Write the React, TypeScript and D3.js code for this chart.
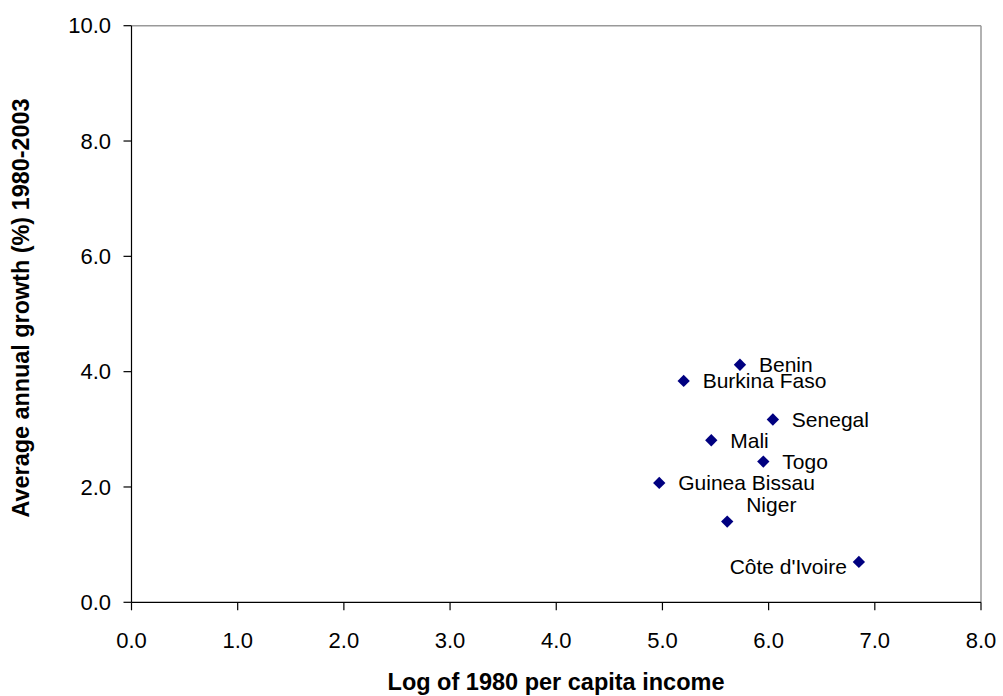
import React from "react";
import * as d3 from "d3";

const countries = ["Benin", "Burkina Faso", "Senegal", "Mali", "Togo", "Guinea Bissau", "Niger", "Côte d'Ivoire"];
const logIncome = [5.73, 5.2, 6.04, 5.46, 5.95, 4.97, 5.61, 6.85];
const growth = [4.12, 3.84, 3.17, 2.81, 2.44, 2.07, 1.4, 0.7];
const labelPos = ["right", "right", "right", "right", "right", "right", "above", "left"];
const xTicks = [0, 1, 2, 3, 4, 5, 6, 7, 8];
const yTicks = [0, 2, 4, 6, 8, 10];

export default function App() {
  const W = 1003, H = 696;
  const left = 131.5, right = 981, top = 25.7, bottom = 602.3;
  const x = d3.scaleLinear().domain([0, 8]).range([left, right]);
  const y = d3.scaleLinear().domain([0, 10]).range([bottom, top]);
  const diamond = d3.symbol().type(d3.symbolSquare).size(76)();
  const font = "Liberation Sans, Arial, sans-serif";
  const fs = 22;
  return (
    <svg width={W} height={H} style={{ position: "absolute", left: 0, top: 0 }} fontFamily={font}>
      <rect x={0} y={0} width={W} height={H} fill="white" />
      {/* plot border */}
      <line x1={left} x2={right} y1={top} y2={top} stroke="#999" strokeWidth={1.5} />
      <line x1={right} x2={right} y1={top} y2={bottom} stroke="#999" strokeWidth={1.5} />
      {/* axes */}
      <line x1={left} x2={left} y1={top} y2={bottom} stroke="black" strokeWidth={1.2} />
      <line x1={left} x2={right} y1={bottom} y2={bottom} stroke="black" strokeWidth={1.2} />
      {yTicks.map((t) => (
        <g key={"y" + t}>
          <line x1={left - 8} x2={left} y1={y(t)} y2={y(t)} stroke="black" strokeWidth={1.2} />
          <text x={111} y={y(t)} dy="0.35em" textAnchor="end" fontSize={fs}>{t.toFixed(1)}</text>
        </g>
      ))}
      {xTicks.map((t) => (
        <g key={"x" + t}>
          <line x1={x(t)} x2={x(t)} y1={bottom} y2={bottom + 8} stroke="black" strokeWidth={1.2} />
          <text x={x(t)} y={640} dy="0.35em" textAnchor="middle" fontSize={fs}>{t.toFixed(1)}</text>
        </g>
      ))}
      <text x={556} y={682} dy="0.35em" textAnchor="middle" fontSize={23.5} fontWeight="bold">Log of 1980 per capita income</text>
      <text transform={`translate(21,308) rotate(-90)`} dy="0.35em" textAnchor="middle" fontSize={23.4} fontWeight="bold">Average annual growth (%) 1980-2003</text>
      {countries.map((c, i) => {
        const px = x(logIncome[i]);
        const py = y(growth[i]);
        const pos = labelPos[i];
        let lx = px + 19, ly = py, anchor = "start";
        if (pos === "above") { lx = px + 19; ly = py - 17; }
        if (pos === "left") { lx = px - 12; ly = py + 5; anchor = "end"; }
        return (
          <g key={c}>
            <path d={diamond} transform={`translate(${px},${py}) rotate(45)`} fill="#000080" />
            <text x={lx} y={ly} dy="0.35em" textAnchor={anchor} fontSize={21}>{c}</text>
          </g>
        );
      })}
    </svg>
  );
}
